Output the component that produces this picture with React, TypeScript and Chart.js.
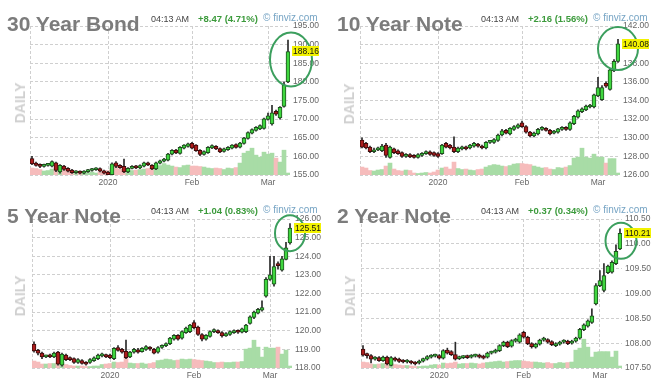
import React, { useEffect, useRef } from "react";
import { Chart, registerables } from "chart.js";
Chart.register(...registerables);

const FONT = "Arial, 'Liberation Sans', Helvetica, sans-serif";
Chart.defaults.font.family = FONT;

// ---- trading days (categories) ----
const decDays = [4, 5, 6, 9, 10, 11, 12, 13, 16, 17, 18, 19, 20, 23, 24, 26, 27, 30, 31];
const janDays = [2, 3, 6, 7, 8, 9, 10, 13, 14, 15, 16, 17, 21, 22, 23, 24, 27, 28, 29, 30, 31];
const febDays = [3, 4, 5, 6, 7, 10, 11, 12, 13, 14, 18, 19, 20, 21, 24, 25, 26, 27, 28];
const marDays = [2, 3, 4, 5, 6, 9];
const pad = (d: number) => (d < 10 ? "0" + d : "" + d);
const categories: string[] = [
  ...decDays.map((d) => `2019-12-${pad(d)}`),
  ...janDays.map((d) => `2020-01-${pad(d)}`),
  ...febDays.map((d) => `2020-02-${pad(d)}`),
  ...marDays.map((d) => `2020-03-${pad(d)}`),
];
const monthTickLabels: Record<string, string> = {
  "2020-01-02": "2020",
  "2020-02-03": "Feb",
  "2020-03-02": "Mar",
};

// ---- 30 Year Bond ----
const bond30Open = [159.4,158.2,157.7,157.3,157.6,157.4,158.3,155.8,157.4,156.8,156.3,155.6,155.9,155.5,155.9,156.2,156.4,156.7,156.1,
  155.8,155.1,158.3,157.6,157.3,155.8,156.8,157.4,156.9,157.4,158.3,157.6,156.6,158.2,158.7,159.0,160.6,161.7,160.8,162.2,162.7,
  163.5,163.0,161.6,160.5,161.0,162.3,162.7,162.1,161.3,161.8,162.2,163.2,162.5,163.5,164.8,166.2,167.0,167.4,167.5,
  169.9,168.7,172.1,170.3,173.4,180.0];
const bond30Close = [158.0,157.6,157.3,157.7,157.9,158.6,156.2,157.6,156.5,156.0,155.6,156.0,155.5,156.0,156.3,156.6,156.8,156.0,155.5,
  155.1,158.0,157.3,157.0,155.8,156.8,157.3,156.9,157.5,158.3,157.7,156.6,158.3,158.8,159.3,160.6,161.6,160.9,162.4,163.0,163.4,
  162.2,161.5,160.5,161.3,162.4,162.9,162.0,161.2,162.0,162.4,163.0,162.4,163.6,164.9,166.4,167.2,167.8,168.3,170.1,
  170.9,171.7,171.3,173.2,179.2,188.16];
const bond30High = [160.0,158.5,158.0,157.9,158.1,158.8,158.5,157.8,157.6,157.0,156.5,156.2,156.1,156.2,156.5,156.8,157.0,156.9,156.3,
  156.0,158.3,158.6,157.8,159.3,157.0,157.5,157.6,157.7,158.5,158.5,157.8,158.5,159.0,159.5,160.8,161.8,161.9,162.6,163.2,163.6,
  163.8,163.2,161.8,161.5,162.6,163.1,162.9,162.3,162.2,162.6,163.2,163.4,163.8,165.1,166.6,167.4,168.0,168.5,170.3,
  171.6,173.7,172.4,173.4,180.0,191.2];
const bond30Low = [157.8,157.4,157.0,157.1,157.4,157.2,155.9,155.5,156.2,155.8,155.4,155.4,155.3,155.3,155.7,156.0,156.2,155.8,155.3,
  155.0,155.0,157.0,156.8,155.6,155.6,156.6,156.7,156.7,157.2,157.5,156.4,156.4,158.0,158.5,158.8,160.4,160.7,160.6,162.0,162.5,
  162.0,161.3,160.2,160.3,160.8,162.1,161.8,161.0,161.1,161.6,162.0,162.2,162.3,163.3,164.6,166.0,166.8,167.2,167.3,
  169.7,168.4,171.0,170.0,173.2,179.8];
const bond30Volume = [70,65,55,40,45,60,75,65,50,45,40,30,25,20,25,30,20,30,40,
  45,70,80,60,55,60,45,50,55,60,65,70,85,95,115,100,90,80,75,95,100,
  90,90,85,80,70,65,70,65,55,70,65,75,120,220,240,270,200,180,230,
  210,220,170,130,250,20];
const bond30Ticks = [155, 160, 165, 170, 175, 180, 185, 190, 195];

// ---- 10 Year Note ----
const note10Open = [129.76,129.4,129.0,128.5,128.7,128.6,129.2,127.9,128.8,128.6,128.4,128.0,128.2,128.1,127.9,128.1,128.3,128.5,128.4,
  128.3,128.3,129.4,129.2,129.0,128.5,128.8,129.0,128.9,129.1,129.3,129.1,128.9,129.5,129.5,129.7,130.3,130.8,130.4,130.9,131.1,
  131.6,131.2,130.6,130.2,130.4,130.9,131.0,130.8,130.5,130.6,130.9,131.1,130.9,131.5,132.2,132.8,133.0,133.3,133.3,
  134.5,134.1,135.85,135.2,137.2,138.2];
const note10Close = [129.0,128.9,128.5,128.7,128.85,129.1,128.1,129.0,128.4,128.3,128.0,128.2,127.95,127.9,128.2,128.3,128.5,128.2,128.1,
  128.0,129.2,129.0,128.9,128.5,128.9,129.0,128.8,129.2,129.4,129.1,128.9,129.5,129.6,129.8,130.3,130.75,130.5,131.0,131.2,131.4,
  131.2,130.6,130.2,130.5,130.9,131.1,130.8,130.4,130.7,130.95,131.1,130.9,131.6,132.3,132.9,133.1,133.4,133.5,134.6,
  135.4,135.4,135.55,137.3,138.2,140.08];
const note10High = [130.0,129.5,129.1,128.9,129.0,129.3,129.4,129.1,128.9,128.7,128.5,128.3,128.3,128.2,128.3,128.4,128.6,128.6,128.5,
  128.4,129.3,129.5,129.3,130.1,129.0,129.1,129.1,129.3,129.5,129.4,129.2,129.6,129.7,129.9,130.4,130.9,130.9,131.1,131.3,131.5,
  131.8,131.3,130.7,130.6,131.0,131.2,131.1,130.9,130.8,131.0,131.2,131.2,131.7,132.4,133.0,133.2,133.5,133.6,134.7,
  136.5,135.6,136.0,137.4,138.4,140.57];
const note10Low = [128.9,128.8,128.4,128.4,128.6,128.5,127.9,127.8,128.3,128.2,127.9,127.9,127.85,127.8,127.8,128.0,128.2,128.1,128.0,
  127.9,128.2,128.9,128.8,128.4,128.4,128.7,128.7,128.8,129.0,129.0,128.8,128.8,129.4,129.4,129.6,130.2,130.4,130.3,130.8,131.0,
  131.1,130.5,130.1,130.1,130.3,130.8,130.7,130.3,130.4,130.5,130.8,130.8,130.8,131.4,132.1,132.7,132.9,133.2,133.2,
  134.4,134.0,135.4,135.1,137.1,138.1];
const note10Volume = [80,70,45,40,50,55,90,120,60,45,40,50,45,20,15,20,25,20,30,
  50,70,80,60,130,65,55,60,50,45,55,60,80,95,105,100,90,85,95,110,115,
  115,110,105,90,80,70,75,60,55,75,70,80,95,170,180,270,180,170,210,
  180,180,120,165,165,20];
const note10Ticks = [126, 128, 130, 132, 134, 136, 138, 140, 142];

// ---- 5 Year Note ----
const note5Open = [119.28,118.95,118.8,118.6,118.7,118.6,118.85,118.15,118.7,118.55,118.5,118.3,118.4,118.3,118.3,118.4,118.5,118.65,118.72,
  118.7,118.5,119.1,119.0,118.9,118.6,118.85,118.98,118.88,119.0,119.1,119.0,118.85,119.1,119.2,119.3,119.55,119.75,119.6,119.9,119.95,
  120.44,120.2,119.8,119.55,119.7,119.95,120.0,119.9,119.72,119.8,119.9,120.0,119.92,119.95,120.4,120.72,120.95,121.1,121.86,
  122.75,122.5,123.6,123.25,123.83,124.72];
const note5Close = [118.92,118.8,118.6,118.65,118.6,118.8,118.2,118.75,118.45,118.45,118.3,118.45,118.25,118.2,118.45,118.55,118.7,118.75,118.6,
  118.55,119.05,118.95,118.85,118.55,118.85,119.0,118.85,119.05,119.15,119.02,118.8,119.1,119.22,119.3,119.6,119.75,119.55,119.95,120.15,120.3,
  120.17,119.8,119.55,119.75,119.95,120.05,119.9,119.72,119.85,119.95,120.0,119.92,120.1,120.3,120.75,121.0,121.15,121.25,122.76,
  123.0,123.45,123.5,123.86,124.45,125.51];
const note5High = [119.4,119.0,118.85,118.7,118.75,118.85,118.9,118.8,118.75,118.6,118.55,118.5,118.45,118.35,118.5,118.6,118.75,118.8,118.75,
  118.75,119.1,119.2,119.05,119.5,118.9,119.05,119.05,119.1,119.2,119.15,119.05,119.15,119.25,119.35,119.65,119.8,119.8,120.0,120.2,120.35,
  120.55,120.25,119.85,119.8,120.0,120.1,120.05,119.95,119.9,120.0,120.05,120.05,120.15,120.35,120.8,121.05,121.2,121.6,122.85,
  124.0,124.0,123.7,124.0,124.75,125.75];
const note5Low = [118.85,118.7,118.5,118.55,118.55,118.55,118.15,118.1,118.4,118.4,118.25,118.25,118.2,118.15,118.25,118.35,118.45,118.6,118.55,
  118.5,118.45,118.9,118.8,118.5,118.55,118.8,118.8,118.85,118.95,118.95,118.75,118.8,119.05,119.15,119.25,119.5,119.5,119.55,119.85,119.9,
  120.1,119.75,119.45,119.5,119.65,119.9,119.85,119.65,119.7,119.75,119.85,119.85,119.88,119.9,120.35,120.65,120.9,121.05,121.8,
  122.7,122.4,123.3,123.2,123.8,124.65];
const note5Volume = [70,60,40,40,45,45,60,55,35,25,20,20,20,15,15,20,20,35,40,
  45,60,55,60,100,50,45,45,50,40,45,55,75,80,90,85,75,80,90,85,90,
  85,80,75,70,65,55,55,60,55,55,60,60,65,190,200,280,210,110,210,
  200,200,210,140,180,20];
const note5Ticks = [118, 119, 120, 121, 122, 123, 124, 125, 126];

// ---- 2 Year Note ----
const note2Open = [107.88,107.78,107.75,107.68,107.71,107.65,107.72,107.55,107.7,107.68,107.65,107.62,107.63,107.61,107.6,107.64,107.68,107.72,107.74,
  107.75,107.7,107.86,107.83,107.77,107.69,107.71,107.74,107.72,107.74,107.76,107.74,107.72,107.8,107.82,107.85,107.95,108.02,107.94,108.04,108.02,
  108.22,108.12,107.99,107.92,107.98,108.06,108.07,108.03,107.95,107.98,108.02,108.04,108.0,108.04,108.1,108.27,108.34,108.42,108.79,
  109.16,109.06,109.42,109.43,109.6,109.9];
const note2Close = [107.76,107.75,107.68,107.71,107.65,107.72,107.58,107.71,107.66,107.63,107.62,107.65,107.6,107.58,107.64,107.69,107.73,107.75,107.76,
  107.7,107.85,107.8,107.77,107.68,107.72,107.73,107.71,107.75,107.76,107.72,107.7,107.8,107.82,107.86,107.95,108.02,107.93,108.05,108.08,108.17,
  108.12,107.99,107.93,107.98,108.06,108.1,108.02,107.97,107.99,108.02,108.05,107.99,108.04,108.1,108.28,108.37,108.45,108.55,109.16,
  109.26,109.36,109.55,109.63,109.85,110.21];
const note2High = [107.95,107.8,107.77,107.73,107.73,107.74,107.74,107.73,107.72,107.7,107.67,107.67,107.65,107.63,107.66,107.7,107.75,107.77,107.78,
  107.77,107.87,107.9,107.85,108.02,107.74,107.75,107.76,107.77,107.78,107.78,107.76,107.82,107.84,107.88,107.97,108.04,108.04,108.07,108.1,108.19,
  108.24,108.14,108.01,108.0,108.08,108.12,108.09,108.05,108.01,108.04,108.07,108.06,108.06,108.12,108.3,108.39,108.47,108.69,109.2,
  109.46,109.6,109.57,109.66,109.98,110.3];
const note2Low = [107.74,107.7,107.6,107.66,107.63,107.63,107.56,107.54,107.64,107.61,107.6,107.6,107.58,107.56,107.58,107.62,107.66,107.7,107.72,
  107.68,107.68,107.78,107.75,107.66,107.67,107.69,107.69,107.7,107.72,107.7,107.68,107.7,107.78,107.8,107.83,107.93,107.91,107.92,108.02,108.0,
  108.1,107.97,107.9,107.9,107.96,108.04,108.0,107.95,107.93,107.96,108.0,107.97,107.98,108.02,108.08,108.25,108.32,108.4,108.77,
  109.14,109.03,109.4,109.41,109.58,109.88];
const note2Volume = [60,55,40,35,40,45,50,45,35,30,25,25,20,15,15,20,20,30,35,
  30,50,45,50,60,40,45,45,50,45,40,50,55,60,65,70,60,65,70,75,75,
  70,65,60,60,55,50,55,45,45,55,50,55,60,180,200,290,210,110,160,
  165,165,165,110,170,20];
const note2Ticks = [107.5, 108.0, 108.5, 109.0, 109.5, 110.0, 110.5];

const VOLUME_AXIS_MAX = 1500;

// ---- styles ----
const GRID = "#cfcfcf";
const UP = "#3fd63f";
const DOWN = "#ad1c1c";
const UP_EDGE = "#1d4f1d";
const DOWN_EDGE = "#3d0b0b";
const VOL_UP = "#a8dca6";
const VOL_DOWN = "#f6bcbc";
const WICK = "#2a2a2a";
const RING = "#3c9f5e";

type Panel = {
  title: string; time: string; change: string;
  open: number[]; high: number[]; low: number[]; close: number[]; volume: number[]; ticks: number[];
  left: number; top: number;
  area: { l: number; r: number; t: number; b: number };
  dy: number;
  ring: { v: number; dx: number; rx: number; ry: number };
  daily: { x: number; y: number };
};

const panels: Panel[] = [
  { title: "30 Year Bond", time: "04:13 AM", change: "+8.47 (4.71%)",
    open: bond30Open, high: bond30High, low: bond30Low, close: bond30Close, volume: bond30Volume, ticks: bond30Ticks,
    left: 0, top: 0, area: { l: 30, r: 290, t: 26, b: 175 }, dy: 0,
    ring: { v: 186.0, dx: 3, rx: 21, ry: 27 }, daily: { x: 19.5, y: 103 } },
  { title: "10 Year Note", time: "04:13 AM", change: "+2.16 (1.56%)",
    open: note10Open, high: note10High, low: note10Low, close: note10Close, volume: note10Volume, ticks: note10Ticks,
    left: 330, top: 0, area: { l: 30, r: 290, t: 26, b: 175 }, dy: 0,
    ring: { v: 139.58, dx: 0, rx: 20, ry: 21.5 }, daily: { x: 18.5, y: 103.5 } },
  { title: "5 Year Note", time: "04:13 AM", change: "+1.04 (0.83%)",
    open: note5Open, high: note5High, low: note5Low, close: note5Close, volume: note5Volume, ticks: note5Ticks,
    left: 0, top: 196, area: { l: 32, r: 292, t: 23, b: 172 }, dy: -4,
    ring: { v: 125.24, dx: 0, rx: 15, ry: 18 }, daily: { x: 20, y: 99.5 } },
  { title: "2 Year Note", time: "04:13 AM", change: "+0.37 (0.34%)",
    open: note2Open, high: note2High, low: note2Low, close: note2Close, volume: note2Volume, ticks: note2Ticks,
    left: 330, top: 196, area: { l: 31, r: 292, t: 23, b: 172 }, dy: -4,
    ring: { v: 110.06, dx: 1, rx: 15.5, ry: 18 }, daily: { x: 20, y: 100 } },
];

const W = 330;
const H = 196;

function buildChart(canvas: HTMLCanvasElement, p: Panel) {
  const up = p.close.map((c, i) => c >= p.open[i]);
  const lastIdx = p.close.length - 1;
  const last = p.close[lastIdx];
  const tickMin = p.ticks[0];
  const tickMax = p.ticks[p.ticks.length - 1];
  const step = p.ticks[1] - p.ticks[0];
  const gridIdx = new Set(categories.map((c, i) => (monthTickLabels[c] ? i : -1)).filter((i) => i >= 0));

  const deco = {
    id: "deco",
    beforeDatasetsDraw(chart: any) {
      const { ctx, chartArea: a } = chart;
      ctx.save();
      ctx.strokeStyle = GRID;
      ctx.lineWidth = 1;
      ctx.setLineDash([3, 2]);
      ctx.beginPath();
      ctx.moveTo(a.left + 0.5, a.top);
      ctx.lineTo(a.left + 0.5, a.bottom);
      ctx.stroke();
      ctx.restore();
    },
    afterDraw(chart: any) {
      const { ctx, chartArea: a, scales } = chart;
      const cx = scales.x.getPixelForValue(lastIdx) + p.ring.dx;
      const cy = scales.y.getPixelForValue(p.ring.v);
      ctx.save();
      ctx.strokeStyle = RING;
      ctx.lineWidth = 2;
      ctx.beginPath();
      ctx.ellipse(cx, cy, p.ring.rx, p.ring.ry, 0, 0, Math.PI * 2);
      ctx.stroke();
      const y = scales.y.getPixelForValue(last);
      ctx.fillStyle = "#f2f200";
      ctx.fillRect(a.right + 2, Math.round(y) - 5, 27, 10);
      ctx.fillStyle = "#111";
      ctx.font = `8.5px ${FONT}`;
      ctx.textBaseline = "middle";
      ctx.textAlign = "left";
      ctx.fillText(last.toFixed(2), a.right + 3, y + 0.5);
      ctx.restore();
    },
  };

  return new Chart(canvas, {
    type: "bar",
    data: {
      labels: categories,
      datasets: [
        {
          label: "Volume", data: p.volume, yAxisID: "yv",
          backgroundColor: up.map((u) => (u ? VOL_UP : VOL_DOWN)),
          barPercentage: 1, categoryPercentage: 1, grouped: false, order: 3,
        } as any,
        {
          label: "Range", data: p.low.map((l, i) => [l, p.high[i]]), yAxisID: "y",
          backgroundColor: WICK, barThickness: 1, grouped: false, order: 2,
        } as any,
        {
          label: "Body", data: p.open.map((o, i) => [o, p.close[i]]), yAxisID: "y",
          backgroundColor: up.map((u) => (u ? UP : DOWN)),
          borderColor: up.map((u) => (u ? UP_EDGE : DOWN_EDGE)), borderWidth: 1, borderSkipped: false,
          barThickness: 4, minBarLength: 2, grouped: false, order: 1,
        } as any,
      ],
    },
    options: {
      responsive: false,
      maintainAspectRatio: false,
      animation: false,
      devicePixelRatio: 1,
      events: [],
      layout: { padding: { left: p.area.l, top: p.area.t, right: 0, bottom: 0 } },
      plugins: { legend: { display: false }, tooltip: { enabled: false }, title: { display: false } },
      scales: {
        x: {
          type: "category",
          offset: true,
          afterFit: (s: any) => { s.height = H - p.area.b; },
          grid: {
            offset: false,
            drawTicks: false,
            color: (ctx: any) => (gridIdx.has(ctx.index) ? GRID : "rgba(0,0,0,0)"),
            lineWidth: 1,
          },
          border: { display: false, dash: [3, 2] },
          ticks: {
            autoSkip: false, maxRotation: 0, minRotation: 0, padding: 3,
            color: "#666", font: { size: 8.5 },
            callback: (_v: any, i: number) => monthTickLabels[categories[i]] || "",
          },
        },
        y: {
          type: "linear",
          position: "right",
          min: tickMin, max: tickMax,
          afterFit: (s: any) => { s.width = W - p.area.r; },
          afterBuildTicks: (s: any) => { s.ticks = p.ticks.map((v) => ({ value: v })); },
          grid: { drawTicks: false, color: GRID, lineWidth: 1 },
          border: { display: false, dash: [3, 2] },
          ticks: {
            stepSize: step, padding: 3, color: "#666", font: { size: 8.5 },
            callback: (v: any) => Number(v).toFixed(2),
          },
        },
        yv: {
          type: "linear", display: false, min: 0, max: VOLUME_AXIS_MAX,
          grid: { display: false },
        },
      },
    } as any,
    plugins: [deco as any],
  });
}

function PanelView({ p }: { p: Panel }) {
  const ref = useRef<HTMLCanvasElement | null>(null);
  useEffect(() => {
    if (!ref.current) return;
    const chart = buildChart(ref.current, p);
    return () => chart.destroy();
  }, [p]);
  const abs = (o: any) => ({ position: "absolute" as const, whiteSpace: "nowrap" as const, fontFamily: FONT, ...o });
  return (
    <div style={{ position: "absolute", left: p.left, top: p.top, width: W, height: H, overflow: "hidden" }}>
      <canvas ref={ref} width={W} height={H} style={{ position: "absolute", left: 0, top: 0, width: W, height: H }} />
      <div style={abs({ left: 7, top: 13 + p.dy, fontSize: 21, fontWeight: "bold", lineHeight: "21px", color: "#7c7c7c" })}>{p.title}</div>
      <div style={abs({ left: 151, top: 15 + p.dy, fontSize: 9, lineHeight: "9px", color: "#444" })}>{p.time}</div>
      <div style={abs({ left: 198, top: 14 + p.dy, fontSize: 9.5, fontWeight: "bold", lineHeight: "9.5px", color: "#3b9a3b" })}>{p.change}</div>
      <div style={abs({ left: 263, top: 12.5 + p.dy, fontSize: 10, lineHeight: "10px", color: "#76a4c4" })}>© finviz.com</div>
      <div style={abs({ left: p.daily.x, top: p.daily.y, fontSize: 14, fontWeight: "bold", lineHeight: "14px", color: "#d0d0d0", transform: "translate(-50%, -50%) rotate(-90deg)" })}>DAILY</div>
    </div>
  );
}

export default function App() {
  useEffect(() => {
    document.body.style.margin = "0";
    document.body.style.background = "#fff";
  }, []);
  return (
    <div style={{ position: "relative", width: 660, height: 392, background: "#fff" }}>
      {panels.map((p) => (
        <PanelView key={p.title} p={p} />
      ))}
    </div>
  );
}
